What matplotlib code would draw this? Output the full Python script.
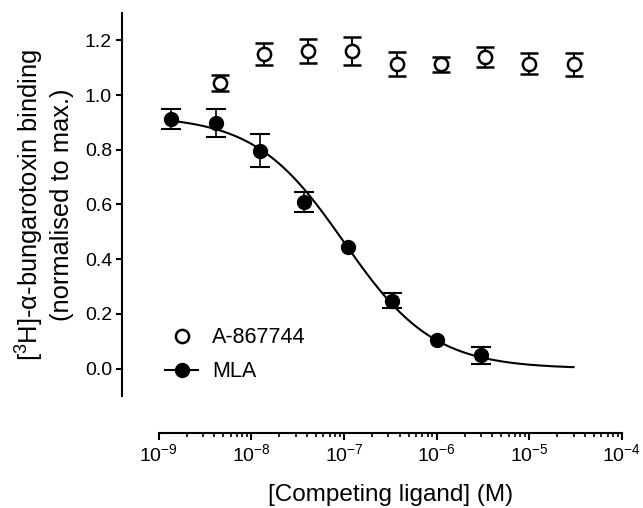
"""Competition binding curve: A-867744 vs MLA at [3H]-alpha-bungarotoxin sites."""

import matplotlib

matplotlib.use("Agg")
from matplotlib import pyplot as plt
from matplotlib.lines import Line2D
import numpy as np

# A-867744 (open circles), 3-fold dilution series
a867744_conc = [4.57e-9, 1.37e-8, 4.12e-8, 1.23e-7, 3.7e-7, 1.11e-6, 3.33e-6, 1.0e-5, 3.0e-5]
a867744_mean = [1.045, 1.149, 1.161, 1.161, 1.113, 1.113, 1.140, 1.115, 1.113]
a867744_sem = [0.030, 0.040, 0.045, 0.050, 0.045, 0.027, 0.036, 0.038, 0.042]

# MLA (filled circles); nan where the bar is hidden by the marker
mla_conc = [1.37e-9, 4.12e-9, 1.23e-8, 3.7e-8, 1.11e-7, 3.33e-7, 1.0e-6, 3.0e-6]
mla_mean = [0.913, 0.898, 0.797, 0.609, 0.444, 0.248, 0.106, 0.048]
mla_sem = [0.037, 0.050, 0.060, 0.038, np.nan, 0.027, np.nan, 0.030]

# one-site fit drawn through the MLA data
fit_top = 0.925
fit_bottom = 0.0
fit_log_ic50 = -7.0
fit_hill = 0.9
fit_range = (1.37e-9, 3.0e-5)

FONT = "Liberation Sans"


def main() -> int:
    plt.rcParams["font.family"] = [FONT, "DejaVu Sans"]
    plt.rcParams["mathtext.default"] = "regular"
    plt.rcParams["axes.unicode_minus"] = False

    fig = plt.figure(figsize=(6.43, 5.08), dpi=100)
    ax = fig.add_axes([0.2468, 0.2205, 0.7205, 0.7539])

    fit_x = np.logspace(np.log10(fit_range[0]), np.log10(fit_range[1]), 300)
    fit_y = fit_bottom + (fit_top - fit_bottom) / (
        1 + 10 ** ((np.log10(fit_x) - fit_log_ic50) * fit_hill)
    )
    ax.plot(fit_x, fit_y, color="black", lw=1.5, zorder=2)

    ax.errorbar(
        mla_conc, mla_mean, yerr=mla_sem, fmt="o", color="black",
        ms=10, elinewidth=1.2, capsize=7, capthick=1.5, zorder=3,
    )
    ax.errorbar(
        a867744_conc, a867744_mean, yerr=a867744_sem, fmt="o", color="black",
        mfc="white", mec="black", mew=1.8, ms=9.5,
        elinewidth=1.4, capsize=6.5, capthick=2.0, zorder=3,
    )

    ax.set_xscale("log")
    ax.set_xlim(1e-9, 1e-4)
    ax.set_ylim(-0.1, 1.3)
    ax.set_yticks([0.0, 0.2, 0.4, 0.6, 0.8, 1.0, 1.2])
    ax.set_yticklabels([f"{v:.1f}" for v in ax.get_yticks()])

    for side in ("top", "right"):
        ax.spines[side].set_visible(False)
    ax.spines["left"].set_position(("outward", 26.6))
    ax.spines["bottom"].set_position(("outward", 27.0))
    for side in ("left", "bottom"):
        ax.spines[side].set_linewidth(1.5)

    ax.tick_params(axis="y", direction="out", length=4, width=1.5,
                   labelsize=14, pad=3)
    ax.tick_params(axis="x", which="major", direction="out", length=5,
                   width=1.5, labelsize=14, pad=2)
    ax.tick_params(axis="x", which="minor", direction="out", length=3,
                   width=1.2)

    ax.set_xlabel("[Competing ligand] (M)", fontsize=17.5, labelpad=13.5)
    ax.set_ylabel("[$^{3}$H]-α-bungarotoxin binding\n(normalised to max.)",
                  fontsize=18.4, labelpad=8, linespacing=1.2)

    handles = [
        Line2D([], [], ls="none", marker="o", ms=9.5, mfc="white",
               mec="black", mew=1.8),
        Line2D([], [], color="black", lw=1.5, marker="o", ms=10),
    ]
    ax.legend(
        handles, ["A-867744", "MLA"], loc="upper left",
        bbox_to_anchor=(0.0136, 0.18), frameon=False, fontsize=15.5,
        handlelength=1.55, handletextpad=0.65, labelspacing=0.62,
        borderpad=0, borderaxespad=0,
    )

    fig.savefig("out.png", dpi=100)
    plt.close(fig)
    return 0


if __name__ == "__main__":
    raise SystemExit(main())
